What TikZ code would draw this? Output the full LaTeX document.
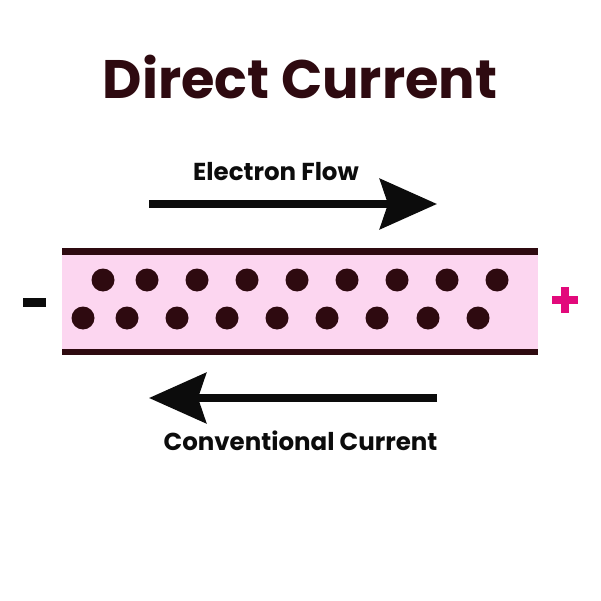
\documentclass[tikz,border=0pt]{standalone}
\usepackage{fontspec}
\setmainfont{Poppins}
\usetikzlibrary{arrows.meta}
\definecolor{maroon}{HTML}{2E0A10}
\definecolor{pinkfill}{HTML}{FCD6F0}
\definecolor{magentaplus}{HTML}{E2097B}
\definecolor{ink}{HTML}{0C0C0C}
\tikzset{
  label text/.style={font=\fontsize{24.5}{28}\selectfont\bfseries, text=ink, inner sep=0pt},
  flow arrow/.style={draw=ink, line width=8pt, -{Stealth[length=57pt, width=50pt, inset=8pt]}},
  electron/.style={circle, fill=maroon, minimum size=23pt, inner sep=0pt},
  band/.style={fill=maroon}
}
\begin{document}
\begin{tikzpicture}[x=1pt,y=-1pt]
\useasboundingbox[fill=white] (0,0) rectangle (601,601);
% title
\node[font=\fontsize{54.2}{62}\selectfont\bfseries, text=maroon, inner sep=0pt, anchor=base] (title) at (300,99) {Direct Current};
% wire
\fill[pinkfill] (62,255) rectangle (538,349);
\fill[band] (62,248) rectangle (538,255);
\fill[band] (62,349) rectangle (538,355);
% electrons
\foreach \x [count=\i] in {103,147,197,247,297,347,397,447,497}
  \node[electron] (t\i) at (\x,280) {};
\foreach \x [count=\i] in {83,127,177,227,277,327,377,428,478}
  \node[electron] (b\i) at (\x,318) {};
% signs
\fill[ink] (23,298) rectangle (46,307);
\fill[magentaplus] (552,296) rectangle (578,304);
\fill[magentaplus] (561,287) rectangle (569,313);
% arrows
\coordinate (e1) at (149,204);
\coordinate (e2) at (437,204);
\draw[flow arrow] (e1) -- (e2);
\node[label text, anchor=base] (elabel) at (276,181) {Electron Flow};
\coordinate (c1) at (437,398);
\coordinate (c2) at (149,398);
\draw[flow arrow] (c1) -- (c2);
\node[label text, anchor=base] (clabel) at (300.5,450) {Conventional Current};
\end{tikzpicture}
\end{document}
